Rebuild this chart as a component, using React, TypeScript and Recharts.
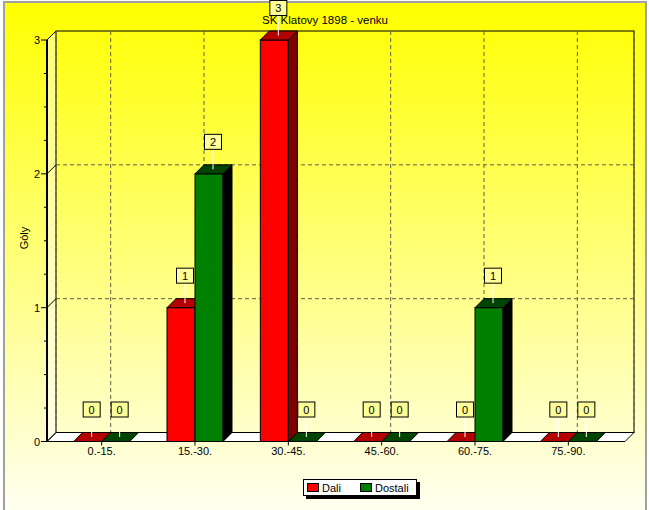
import React from "react";
import { BarChart, Bar, XAxis, YAxis, CartesianGrid, Legend } from "recharts";

// Góly podle čtvrthodin – venkovní zápasy
const CATEGORIES = ["0.-15.", "15.-30.", "30.-45.", "45.-60.", "60.-75.", "75.-90."];
const DALI = [0, 1, 3, 0, 0, 0];
const DOSTALI = [0, 2, 0, 0, 1, 0];
const Y_TICKS = [0, 0.25, 0.5, 0.75, 1, 1.25, 1.5, 1.75, 2, 2.25, 2.5, 2.75, 3];
const Y_MAJOR = [0, 1, 2, 3];
const TITLE = "SK Klatovy 1898 - venku";
const Y_LABEL = "Góly";

const data = CATEGORIES.map((name, i) => ({ name, dali: DALI[i], dostali: DOSTALI[i] }));

const W = 649;
const H = 510;
const PL = 47; // front plot left
const PR = 625; // front plot right
const PT = 40;
const PB = 441.5;
const D = 9; // 3D depth
const YW = 40;
const XH = 20;
const FONT = "'Liberation Sans', Arial, sans-serif";

const frontMargin = { top: PT, right: W - PR, bottom: H - PB - XH, left: PL - YW };
const backMargin = { top: PT - D, right: W - PR - D, bottom: H - PB - XH + D, left: PL - YW + D };

function Box3D(props: any) {
  const { x, y, width, height, fill, topFill, sideFill, payload, dataKey } = props;
  const w = width;
  const h = Math.max(0, height);
  const v = payload?.[dataKey];
  const cx = x + w / 2 + 4;
  const by = y - 32;
  return (
    <g>
      {h > 0 && (
        <>
          <rect x={x} y={y} width={w} height={h} fill={fill} stroke="#000" />
          <polygon
            points={`${x + w},${y} ${x + w + D},${y - D} ${x + w + D},${y + h - D} ${x + w},${y + h}`}
            fill={sideFill}
            stroke="#000"
          />
        </>
      )}
      <polygon
        points={`${x},${y} ${x + D},${y - D} ${x + w + D},${y - D} ${x + w},${y}`}
        fill={topFill}
        stroke="#000"
      />
      <line x1={cx} y1={y - D / 2} x2={cx} y2={by + 7.5} stroke="#fff" />
      <rect x={cx - 8.5} y={by - 7.5} width={17} height={15} fill="#ffff99" stroke="#000" />
      <text x={cx} y={by + 4} textAnchor="middle" fontSize={11} fontFamily={FONT} fill="#000">
        {v}
      </text>
    </g>
  );
}

function FrontYTick(props: any) {
  const { x, y, payload } = props;
  const major = Y_MAJOR.includes(payload.value);
  return (
    <g>
      <line x1={x - (major ? 6 : 3)} y1={y} x2={x} y2={y} stroke="#000" />
      {major && (
        <text x={x - 7} y={y + 4} textAnchor="end" fontSize={11} fontFamily={FONT} fill="#000">
          {payload.value}
        </text>
      )}
    </g>
  );
}

// diagonály na levé stěně
function BackYTick(props: any) {
  const { x, y } = props;
  return <line x1={x} y1={y} x2={x - D} y2={y + D} stroke="#000" />;
}

function LegendBox(props: any) {
  const payload = props.payload || [];
  return (
    <div
      style={{
        width: 114,
        height: 17,
        boxSizing: "border-box",
        background: "#fff",
        border: "1px solid #000",
        boxShadow: "3px 3px 0 #000",
        display: "flex",
        alignItems: "center",
        fontFamily: FONT,
        fontSize: 11,
        color: "#000",
      }}
    >
      {payload.map((p: any, i: number) => (
        <span
          key={i}
          style={{ display: "flex", alignItems: "center", marginLeft: 3, width: i === 0 ? 50 : undefined }}
        >
          <span
            style={{
              width: 12,
              height: 9,
              boxSizing: "border-box",
              background: p.color,
              border: "1px solid #000",
              marginRight: 3,
            }}
          />
          <span>{p.value}</span>
        </span>
      ))}
    </div>
  );
}

export default function App() {
  const floor = `${PL},${PB} ${PR},${PB} ${PR + D},${PB - D} ${PL + D},${PB - D}`;
  const leftWall = `${PL},${PT} ${PL + D},${PT - D} ${PL + D},${PB - D} ${PL},${PB}`;
  return (
    <div style={{ position: "absolute", left: 0, top: 0, width: W, height: H, background: "#fff", overflow: "hidden" }}>
      <svg width={W} height={H} style={{ position: "absolute", left: 0, top: 0 }}>
        <defs>
          <linearGradient id="bg" x1="0" y1="0" x2="0" y2="1">
            <stop offset="0%" stopColor="#ffff00" />
            <stop offset="100%" stopColor="#fffff6" />
          </linearGradient>
        </defs>
        <rect x={4} y={2} width={642} height={520} fill="url(#bg)" stroke="#a0a0a0" strokeWidth={2} />
        <polygon points={leftWall} fill="rgba(255,255,255,0.45)" />
        <rect x={PL + D} y={PT - D} width={PR - PL} height={PB - PT} fill="none" stroke="#000" />
        <polygon points={floor} fill="#fff" stroke="#000" />
        <text x={325} y={24} textAnchor="middle" fontSize={11.5} fontFamily={FONT} fill="#000">
          {TITLE}
        </text>
        <text
          x={24}
          y={238}
          textAnchor="middle"
          dominantBaseline="central"
          fontSize={11}
          fontFamily={FONT}
          fill="#000"
          transform="rotate(-90 24 238)"
        >
          {Y_LABEL}
        </text>
      </svg>

      <div style={{ position: "absolute", left: 0, top: 0 }}>
        <BarChart width={W} height={H} data={data} margin={backMargin} barCategoryGap="20%" barGap={0}>
          <CartesianGrid stroke="#5e5e4a" strokeDasharray="4 3" horizontalValues={[1, 2]} />
          <XAxis
            dataKey="name"
            height={XH}
            interval={0}
            padding={{ left: 8, right: 10 }}
            tick={() => <g />}
            axisLine={false}
            tickLine={false}
          />
          <YAxis
            width={YW}
            domain={[0, 3]}
            ticks={Y_MAJOR}
            axisLine={false}
            tickLine={false}
            tickSize={0}
            tickMargin={0}
            tick={<BackYTick />}
          />
          <Bar dataKey="dali" fill="none" isAnimationActive={false} shape={() => <g />} />
          <Bar dataKey="dostali" fill="none" isAnimationActive={false} shape={() => <g />} />
        </BarChart>
      </div>

      <div style={{ position: "absolute", left: 0, top: 0 }}>
        <BarChart width={W} height={H} data={data} margin={frontMargin} barCategoryGap="20%" barGap={0}>
          <XAxis
            dataKey="name"
            height={XH}
            interval={0}
            padding={{ left: 8, right: 10 }}
            axisLine={false}
            tickLine={{ stroke: "#000" }}
            tickSize={4}
            tickMargin={2}
            tick={{ fontSize: 11, fill: "#000", fontFamily: FONT }}
          />
          <YAxis
            width={YW}
            domain={[0, 3]}
            ticks={Y_TICKS}
            interval={0}
            axisLine={{ stroke: "#000", strokeWidth: 2 }}
            tickLine={false}
            tickSize={0}
            tickMargin={0}
            tick={<FrontYTick />}
          />
          <Legend
            layout="horizontal"
            verticalAlign="middle"
            align="center"
            content={<LegendBox />}
            wrapperStyle={{ left: 303, top: 479, width: 114, height: 17 }}
          />
          <Bar
            dataKey="dali"
            name="Dali"
            fill="#ff0000"
            isAnimationActive={false}
            shape={(p: any) => <Box3D {...p} dataKey="dali" fill="#ff0000" topFill="#b40000" sideFill="#800000" />}
          />
          <Bar
            dataKey="dostali"
            name="Dostali"
            fill="#008000"
            isAnimationActive={false}
            shape={(p: any) => <Box3D {...p} dataKey="dostali" fill="#008000" topFill="#004400" sideFill="#000000" />}
          />
        </BarChart>
      </div>
    </div>
  );
}
